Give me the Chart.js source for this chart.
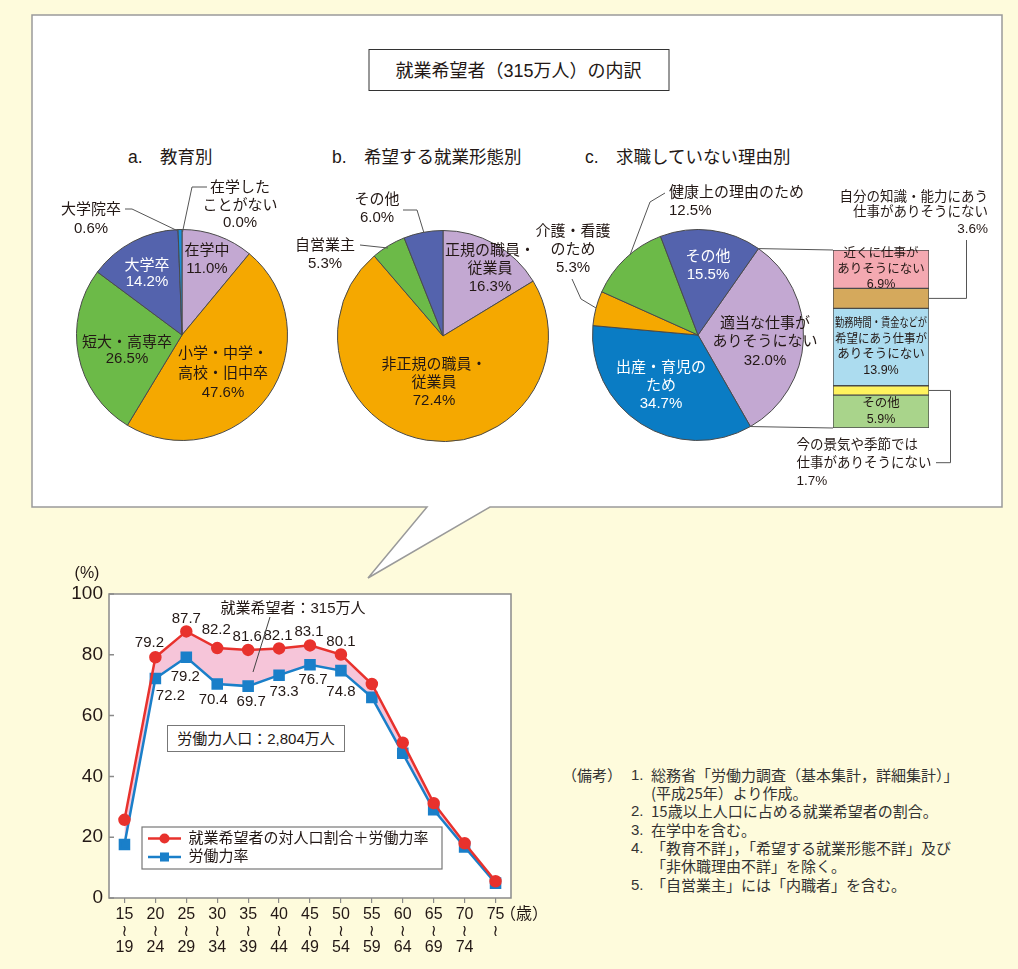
<!DOCTYPE html>
<html>
<head>
<meta charset="utf-8">
<script src="https://cdn.jsdelivr.net/npm/chart.js@4.4.0/dist/chart.umd.min.js"></script>
<style>
body { margin: 0; background: #fefbdc; }
#page { position: relative; width: 1018px; height: 969px; overflow: hidden; font-family: "Liberation Sans", "Noto Sans CJK JP", sans-serif; color: #231815; }
canvas, svg { position: absolute; }
.t { position: absolute; white-space: pre; }
</style>
</head>
<body>
<div id="page">
<svg width="1018" height="969" style="left:0;top:0">
  <path d="M32,15 H1002 V507 H490 L368,578 L427,507 H32 Z" fill="#fff" stroke="#9a9a9a" stroke-width="1.5"/>
</svg>
<canvas id="pieA" width="212" height="212" style="left:76px;top:229px"></canvas>
<canvas id="pieB" width="212" height="212" style="left:337px;top:230px"></canvas>
<canvas id="pieC" width="212" height="212" style="left:592px;top:229px"></canvas>
<canvas id="subBar" width="260" height="320" style="left:740px;top:180px"></canvas>
<canvas id="lineChart" width="480" height="405" style="left:60px;top:560px"></canvas>
<svg id="fg" width="1018" height="969" style="left:0;top:0" fill="none" stroke="#555" stroke-width="1">
  <polyline points="207,187 192,187 182.5,232"/>
  <polyline points="125,209 132,209 178,231"/>
  <polyline points="403,210 417,210 424,233"/>
  <polyline points="360,245 388,248"/>
  <polyline points="665,193 650,202 630,255"/>
  <polyline points="572,279 581,299 596,308"/>
  <polyline points="270,617 253,672" stroke="#444"/>
</svg>
</div>
<script>
// a. 教育別
const eduLabels = ['在学中', '小学・中学・\n高校・旧中卒', '短大・高専卒', '大学卒', '大学院卒', '在学した\nことがない'];
const eduValues = [11.0, 47.6, 26.5, 14.2, 0.6, 0.0];
// b. 希望する就業形態別
const formLabels = ['正規の職員・\n従業員', '非正規の職員・\n従業員', '自営業主', 'その他'];
const formValues = [16.3, 72.4, 5.3, 6.0];
// c. 求職していない理由別
const reasonLabels = ['適当な仕事が\nありそうにない', '出産・育児の\nため', '介護・看護\nのため', '健康上の理由のため', 'その他'];
const reasonValues = [32.0, 34.7, 5.3, 12.5, 15.5];
// breakdown of 適当な仕事がありそうにない (top to bottom)
const subLabels = ['近くに仕事が\nありそうにない', '自分の知識・能力にあう\n仕事がありそうにない', '勤務時間・賃金などが\n希望にあう仕事が\nありそうにない', '今の景気や季節では\n仕事がありそうにない', 'その他'];
const subValues = [6.9, 3.6, 13.9, 1.7, 5.9];
// line chart
const ageFrom = ['15', '20', '25', '30', '35', '40', '45', '50', '55', '60', '65', '70', '75'];
const ageTo = ['19', '24', '29', '34', '39', '44', '49', '54', '59', '64', '69', '74', ''];
const hopeRate = [25.7, 79.2, 87.7, 82.2, 81.6, 82.1, 83.1, 80.1, 70.4, 51.1, 31.2, 18.0, 5.5];
const laborRate = [17.6, 72.2, 79.2, 70.4, 69.7, 73.3, 76.7, 74.8, 66.0, 47.6, 29.0, 16.8, 4.9];
const yTicks = [0, 20, 40, 60, 80, 100];

// colours
const LAV = '#c3a8d2', ORA = '#f5a800', GRN = '#6cba48', IND = '#5463ad', BLU = '#0a7cc4';
const eduColors = [LAV, ORA, GRN, IND, '#1b8fd8', '#ffffff'];
const formColors = [LAV, ORA, GRN, IND];
const reasonColors = [LAV, BLU, ORA, GRN, IND];
const subColors = ['#f4a9b1', '#d5a95c', '#acdcef', '#fff35e', '#a9d48b'];

// label placement: [x, y of first line, line height, colour, align]
const eduPos = [[207, 250, 18.3, '#231815'], [223, 353, 19.5, '#231815'], [127, 342, 16.6, '#231815'],
  [147, 265, 16.7, '#fff'], [91, 208, 19, '#231815'], [240, 187, 17.5, '#231815']];
const formPos = [[490, 250, 18.3, '#231815'], [434, 364, 18.2, '#231815'], [325, 245, 17.7, '#231815'], [377, 199, 18, '#231815']];
const reasonPos = [[765, 323, 18.7, '#231815'], [661, 367, 18, '#fff'], [573, 231, 17.7, '#231815'],
  [669, 192, 18.3, '#231815', 'left'], [708, 256, 18.3, '#fff']];

const page = document.getElementById('page');
const fg = document.getElementById('fg');

function addText(txt, x, y, size, lh, color, align, extra) {
  const d = document.createElement('div');
  d.className = 't';
  d.textContent = txt;
  d.style.left = x + 'px';
  d.style.top = (y - lh / 2) + 'px';
  d.style.fontSize = size + 'px';
  d.style.lineHeight = lh + 'px';
  d.style.color = color || '#231815';
  align = align || 'center';
  d.style.textAlign = align;
  if (align == 'center') d.style.transform = 'translateX(-50%)';
  if (align == 'right') d.style.transform = 'translateX(-100%)';
  if (extra) Object.assign(d.style, extra);
  page.insertBefore(d, fg);
  return d;
}

function makePie(id, labels, values, colors, rotation) {
  return new Chart(document.getElementById(id), {
    type: 'pie',
    data: { labels: labels, datasets: [{ data: values, backgroundColor: colors, borderColor: '#4a4a4a', borderWidth: 1 }] },
    options: {
      responsive: false, animation: false, devicePixelRatio: 1, rotation: rotation,
      layout: { padding: 0 },
      plugins: { legend: { display: false }, tooltip: { enabled: false } }
    }
  });
}

function pieLabels(labels, values, pos) {
  labels.forEach((l, i) => {
    const p = pos[i];
    addText(l + '\n' + values[i].toFixed(1) + '%', p[0], p[1], 15, p[2], p[3], p[4]);
  });
}

const pieA = makePie('pieA', eduLabels, eduValues, eduColors, 0);
const pieB = makePie('pieB', formLabels, formValues, formColors, 0);
const pieC = makePie('pieC', reasonLabels, reasonValues, reasonColors, 35);
pieLabels(eduLabels, eduValues, eduPos);
pieLabels(formLabels, formValues, formPos);
pieLabels(reasonLabels, reasonValues, reasonPos);

// stacked bar for the breakdown, with connectors back to the pie
const subPlugin = {
  id: 'subLabels',
  afterDatasetsDraw(chart) {
    const ctx = chart.ctx, ca = chart.chartArea;
    const n = subValues.length;
    ctx.save();
    ctx.strokeStyle = '#555';
    ctx.lineWidth = 1;
    // connectors from pie slice
    const arc = pieC.getDatasetMeta(0).data[0];
    const cv = chart.canvas, pc = pieC.canvas;
    const ox = pc.offsetLeft - cv.offsetLeft, oy = pc.offsetTop - cv.offsetTop;
    const r = arc.outerRadius;
    const p1 = [ox + arc.x + r * Math.cos(arc.startAngle), oy + arc.y + r * Math.sin(arc.startAngle)];
    const p2 = [ox + arc.x + r * Math.cos(arc.endAngle), oy + arc.y + r * Math.sin(arc.endAngle)];
    ctx.beginPath();
    ctx.moveTo(p1[0], p1[1]); ctx.lineTo(ca.left, ca.top);
    ctx.moveTo(p2[0], p2[1]); ctx.lineTo(ca.left, ca.bottom);
    ctx.stroke();

    ctx.fillStyle = '#231815';
    ctx.textAlign = 'center';
    ctx.textBaseline = 'middle';
    for (let k = 0; k < n; k++) {
      const idx = n - 1 - k; // datasets are bottom-up
      const el = chart.getDatasetMeta(k).data[0];
      const top = Math.min(el.y, el.base), bot = Math.max(el.y, el.base);
      const mid = (top + bot) / 2;
      const lines = (subLabels[idx] + '\n' + subValues[idx].toFixed(1) + '%').split('\n');
      if (idx == 1) {
        // 自分の知識・能力にあう
        ctx.beginPath();
        ctx.moveTo(ca.right, mid); ctx.lineTo(ca.right + 37.5, mid); ctx.lineTo(ca.right + 37.5, ca.top - 10);
        ctx.stroke();
        ctx.font = '13.5px "Liberation Sans", "Noto Sans CJK JP"';
        ctx.textAlign = 'right';
        [-53, -38, -21].forEach((dy, j) => ctx.fillText(lines[j], ca.right + 59, ca.top + dy));
        ctx.textAlign = 'center';
      } else if (idx == 3) {
        // 今の景気や季節では
        ctx.beginPath();
        ctx.moveTo(ca.right, mid); ctx.lineTo(ca.right + 21.5, mid);
        ctx.lineTo(ca.right + 21.5, ca.bottom + 34.7); ctx.lineTo(ca.right + 7, ca.bottom + 34.7);
        ctx.stroke();
        ctx.font = '13.5px "Liberation Sans", "Noto Sans CJK JP"';
        ctx.textAlign = 'left';
        [17, 35.3, 53.7].forEach((dy, j) => ctx.fillText(lines[j], ca.right - 132.5, ca.bottom + dy));
        ctx.textAlign = 'center';
      } else {
        ctx.font = '12.5px "Liberation Sans", "Noto Sans CJK JP"';
        const lh = 15.7;
        const y0 = mid - (lines.length - 1) * lh / 2;
        lines.forEach((s, j) => ctx.fillText(s, (ca.left + ca.right) / 2, y0 + j * lh, ca.right - ca.left - 4));
      }
    }
    ctx.restore();
  }
};

const subSets = [];
for (let k = subValues.length - 1; k >= 0; k--) {
  subSets.push({ data: [subValues[k]], backgroundColor: subColors[k], borderColor: '#4a4a4a', borderWidth: 1, borderSkipped: false });
}
const subTotal = subValues.reduce((a, b) => a + b, 0);
new Chart(document.getElementById('subBar'), {
  type: 'bar',
  data: { labels: ['適当な仕事がありそうにない'], datasets: subSets },
  options: {
    responsive: false, animation: false, devicePixelRatio: 1,
    layout: { padding: { left: 93, right: 71, top: 70, bottom: 72 } },
    datasets: { bar: { barPercentage: 1, categoryPercentage: 1 } },
    scales: {
      x: { stacked: true, display: false },
      y: { stacked: true, display: false, min: 0, max: subTotal }
    },
    plugins: { legend: { display: false }, tooltip: { enabled: false } }
  },
  plugins: [subPlugin]
});

// line chart
const hopeLabelPos = [null, [-6, -14], [0, -13], [-1, -18], [-1, -13], [-1, -13], [-1, -14], [0, -13], null, null, null, null, null];
const laborLabelPos = [null, [15, 17], [-1, 20], [-4, 16], [3, 16], [5, 17], [3, 15], [0, 21], null, null, null, null, null];

const framePlugin = {
  id: 'frame',
  beforeDraw(chart) {
    const ctx = chart.ctx, ca = chart.chartArea;
    ctx.save();
    ctx.fillStyle = '#fff';
    ctx.fillRect(ca.left, ca.top, ca.right - ca.left, ca.bottom - ca.top);
    ctx.restore();
  },
  afterDraw(chart) {
    const ctx = chart.ctx, ca = chart.chartArea;
    ctx.save();
    ctx.strokeStyle = '#8a8a8a';
    ctx.lineWidth = 1.5;
    ctx.strokeRect(ca.left, ca.top, ca.right - ca.left, ca.bottom - ca.top);
    // inward y ticks
    const ys = chart.scales.y;
    ctx.beginPath();
    ys.ticks.forEach(t => {
      const y = ys.getPixelForValue(t.value);
      ctx.moveTo(ca.left, y); ctx.lineTo(ca.left + 5, y);
    });
    ctx.stroke();
    // value labels
    ctx.fillStyle = '#231815';
    ctx.font = '15px "Liberation Sans", "Noto Sans CJK JP"';
    ctx.textAlign = 'center';
    ctx.textBaseline = 'middle';
    [hopeLabelPos, laborLabelPos].forEach((pos, di) => {
      const vals = chart.data.datasets[di].data;
      chart.getDatasetMeta(di).data.forEach((el, j) => {
        if (!pos[j]) return;
        ctx.fillText(vals[j].toFixed(1), el.x + pos[j][0], el.y + pos[j][1]);
      });
    });
    // legend box
    const bx = ca.left + 33, by = ca.bottom - 71, bw = 300, bh = 42;
    ctx.fillStyle = '#fff';
    ctx.fillRect(bx, by, bw, bh);
    ctx.strokeStyle = '#777';
    ctx.lineWidth = 1.2;
    ctx.strokeRect(bx, by, bw, bh);
    chart.data.datasets.forEach((ds, di) => {
      const y = by + 11.5 + di * 18.5;
      ctx.strokeStyle = ds.borderColor;
      ctx.lineWidth = 2.5;
      ctx.beginPath(); ctx.moveTo(bx + 6, y); ctx.lineTo(bx + 39, y); ctx.stroke();
      ctx.fillStyle = ds.pointBackgroundColor;
      Chart.helpers.drawPoint(ctx, { pointStyle: ds.pointStyle, radius: ds.pointRadius, rotation: 0, borderWidth: 0 }, bx + 22.5, y);
      ctx.fillStyle = '#231815';
      ctx.textAlign = 'left';
      ctx.fillText(ds.label, bx + 46.5, y);
    });
    ctx.restore();
  }
};

new Chart(document.getElementById('lineChart'), {
  type: 'line',
  data: {
    labels: ageFrom.map((a, i) => ageTo[i] ? [a, '≀', ageTo[i]] : [a, '≀']),
    datasets: [
      {
        label: '就業希望者の対人口割合＋労働力率', data: hopeRate,
        borderColor: '#e8322d', pointBackgroundColor: '#e8322d', pointBorderColor: '#e8322d',
        backgroundColor: '#f6c5d9', fill: { target: '+1', above: '#f6c5d9', below: '#f6c5d9' },
        borderWidth: 2.5, pointStyle: 'circle', pointRadius: 5, tension: 0
      },
      {
        label: '労働力率', data: laborRate,
        borderColor: '#1a7fc9', pointBackgroundColor: '#1a7fc9', pointBorderColor: '#1a7fc9',
        backgroundColor: '#1a7fc9', fill: false,
        borderWidth: 2.5, pointStyle: 'rect', pointRadius: 6.4, tension: 0
      }
    ]
  },
  options: {
    responsive: false, animation: false, devicePixelRatio: 1,
    layout: { padding: { left: 0, top: 34, right: 29, bottom: 0 } },
    scales: {
      x: {
        offset: true,
        grid: { display: true, drawOnChartArea: false, drawTicks: true, tickLength: 5, color: '#8a8a8a', lineWidth: 1.2 },
        border: { display: false },
        ticks: { color: '#231815', font: { family: '"Liberation Sans", "DejaVu Sans", "Noto Sans CJK JP"', size: 16, lineHeight: 1.05 }, padding: 3, maxRotation: 0, autoSkip: false },
        afterFit: s => { s.height = 67; }
      },
      y: {
        min: 0, max: 100,
        afterBuildTicks: s => { s.ticks = yTicks.map(v => ({ value: v })); },
        grid: { display: false, drawTicks: false },
        border: { display: false },
        ticks: { color: '#231815', font: { size: 19 }, padding: 6 },
        afterFit: s => { s.width = 49; }
      }
    },
    plugins: { legend: { display: false }, tooltip: { enabled: false }, filler: { drawTime: 'beforeDatasetsDraw' } }
  },
  plugins: [framePlugin]
});

// titles and notes
addText('就業希望者（315万人）の内訳', 518.5, 70, 18, 42, '#231815', 'center',
  { width: '299px', height: '40px', border: '1.5px solid #333', background: '#fff', top: '49px' });
addText('a.　教育別', 128, 157, 17.5, 22, '#231815', 'left');
addText('b.　希望する就業形態別', 332, 157, 17.5, 22, '#231815', 'left');
addText('c.　求職していない理由別', 585, 157, 17.5, 22, '#231815', 'left');
addText('(%)', 87, 573, 16, 20);
addText('（歳）', 500, 914, 16, 20, '#231815', 'left');
addText('就業希望者：315万人', 293, 608, 15, 20);
addText('労働力人口：2,804万人', 256, 739, 15, 26, '#231815', 'center',
  { width: '176px', height: '25px', border: '1.5px solid #777', background: '#fff', top: '725px' });

const noteNums = ['1.', '', '2.', '3.', '4.', '', '5.'];
const noteLines = ['総務省「労働力調査（基本集計，詳細集計）」', '(平成25年）より作成。', '15歳以上人口に占める就業希望者の割合。',
  '在学中を含む。', '「教育不詳」，「希望する就業形態不詳」及び', '「非休職理由不詳」を除く。', '「自営業主」には「内職者」を含む。'];
addText('（備考）', 562, 775, 15, 18.5, '#333', 'left', { fontFamily: '"Noto Sans CJK JP"' });
noteLines.forEach((s, i) => {
  const y = 775 + i * 18.3;
  if (noteNums[i]) addText(noteNums[i], 631, y, 15, 18.5, '#333', 'left');
  addText(s, 651, y, 15, 18.5, '#333', 'left', { fontFamily: '"Noto Sans CJK JP"' });
});
</script>
</body>
</html>
